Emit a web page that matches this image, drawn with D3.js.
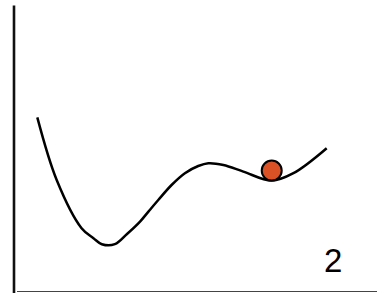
<!DOCTYPE html>
<html><head><meta charset="utf-8">
<script src="https://cdn.jsdelivr.net/npm/d3@7"></script>
<style>html,body{margin:0;padding:0;background:#fff;}svg{display:block;}</style>
</head><body>
<script>
// curve (landscape) data
const curveX = [0, 0.67, 1.53, 1.94, 2.23, 2.68, 3.10, 3.55, 3.84, 4.18, 4.64, 5.10, 5.56, 5.91, 6.43, 7.12, 8.10, 8.85, 10];
const curveY = [8.38, 5.25, 2.84, 2.34, 2.04, 2.04, 2.55, 3.17, 3.67, 4.25, 5.0, 5.59, 5.95, 6.09, 6.0, 5.67, 5.22, 5.59, 6.84];
// ball position
const ballX = [8.10];
const ballY = [5.72];
const labels = ["2"];

const W = 377, H = 293;
const svg = d3.select("body").append("svg").attr("width", W).attr("height", H);

const x = d3.scaleLinear().domain([0, 10]).range([37.3, 326.7]);
const y = d3.scaleLinear().domain([0, 10]).range([285, 85]);

// axes lines
svg.append("line").attr("x1", 17).attr("x2", W).attr("y1", 291.5).attr("y2", 291.5)
  .attr("stroke", "#444").attr("stroke-width", 1.2);
svg.append("line").attr("x1", 14).attr("x2", 14).attr("y1", 5.5).attr("y2", 293)
  .attr("stroke", "#111").attr("stroke-width", 2.6);

const pts = curveX.map((v, i) => [v, curveY[i]]);
svg.append("path").datum(pts)
  .attr("d", d3.line().x(d => x(d[0])).y(d => y(d[1])).curve(d3.curveCatmullRom.alpha(0.5)))
  .attr("fill", "none").attr("stroke", "#000").attr("stroke-width", 2.5)
  .attr("stroke-linejoin", "round");

svg.selectAll("circle.ball").data(ballX.map((v, i) => [v, ballY[i]])).enter()
  .append("circle").attr("class", "ball")
  .attr("cx", d => x(d[0])).attr("cy", d => y(d[1])).attr("r", 10)
  .attr("fill", "#d95125").attr("stroke", "#000").attr("stroke-width", 2);

svg.selectAll("text.lbl").data(labels).enter().append("text").attr("class", "lbl")
  .attr("x", 324).attr("y", 271.5)
  .attr("font-family", "Liberation Sans, Arial, sans-serif")
  .attr("font-size", 33).attr("fill", "#000").text(d => d);
</script>
</body></html>
